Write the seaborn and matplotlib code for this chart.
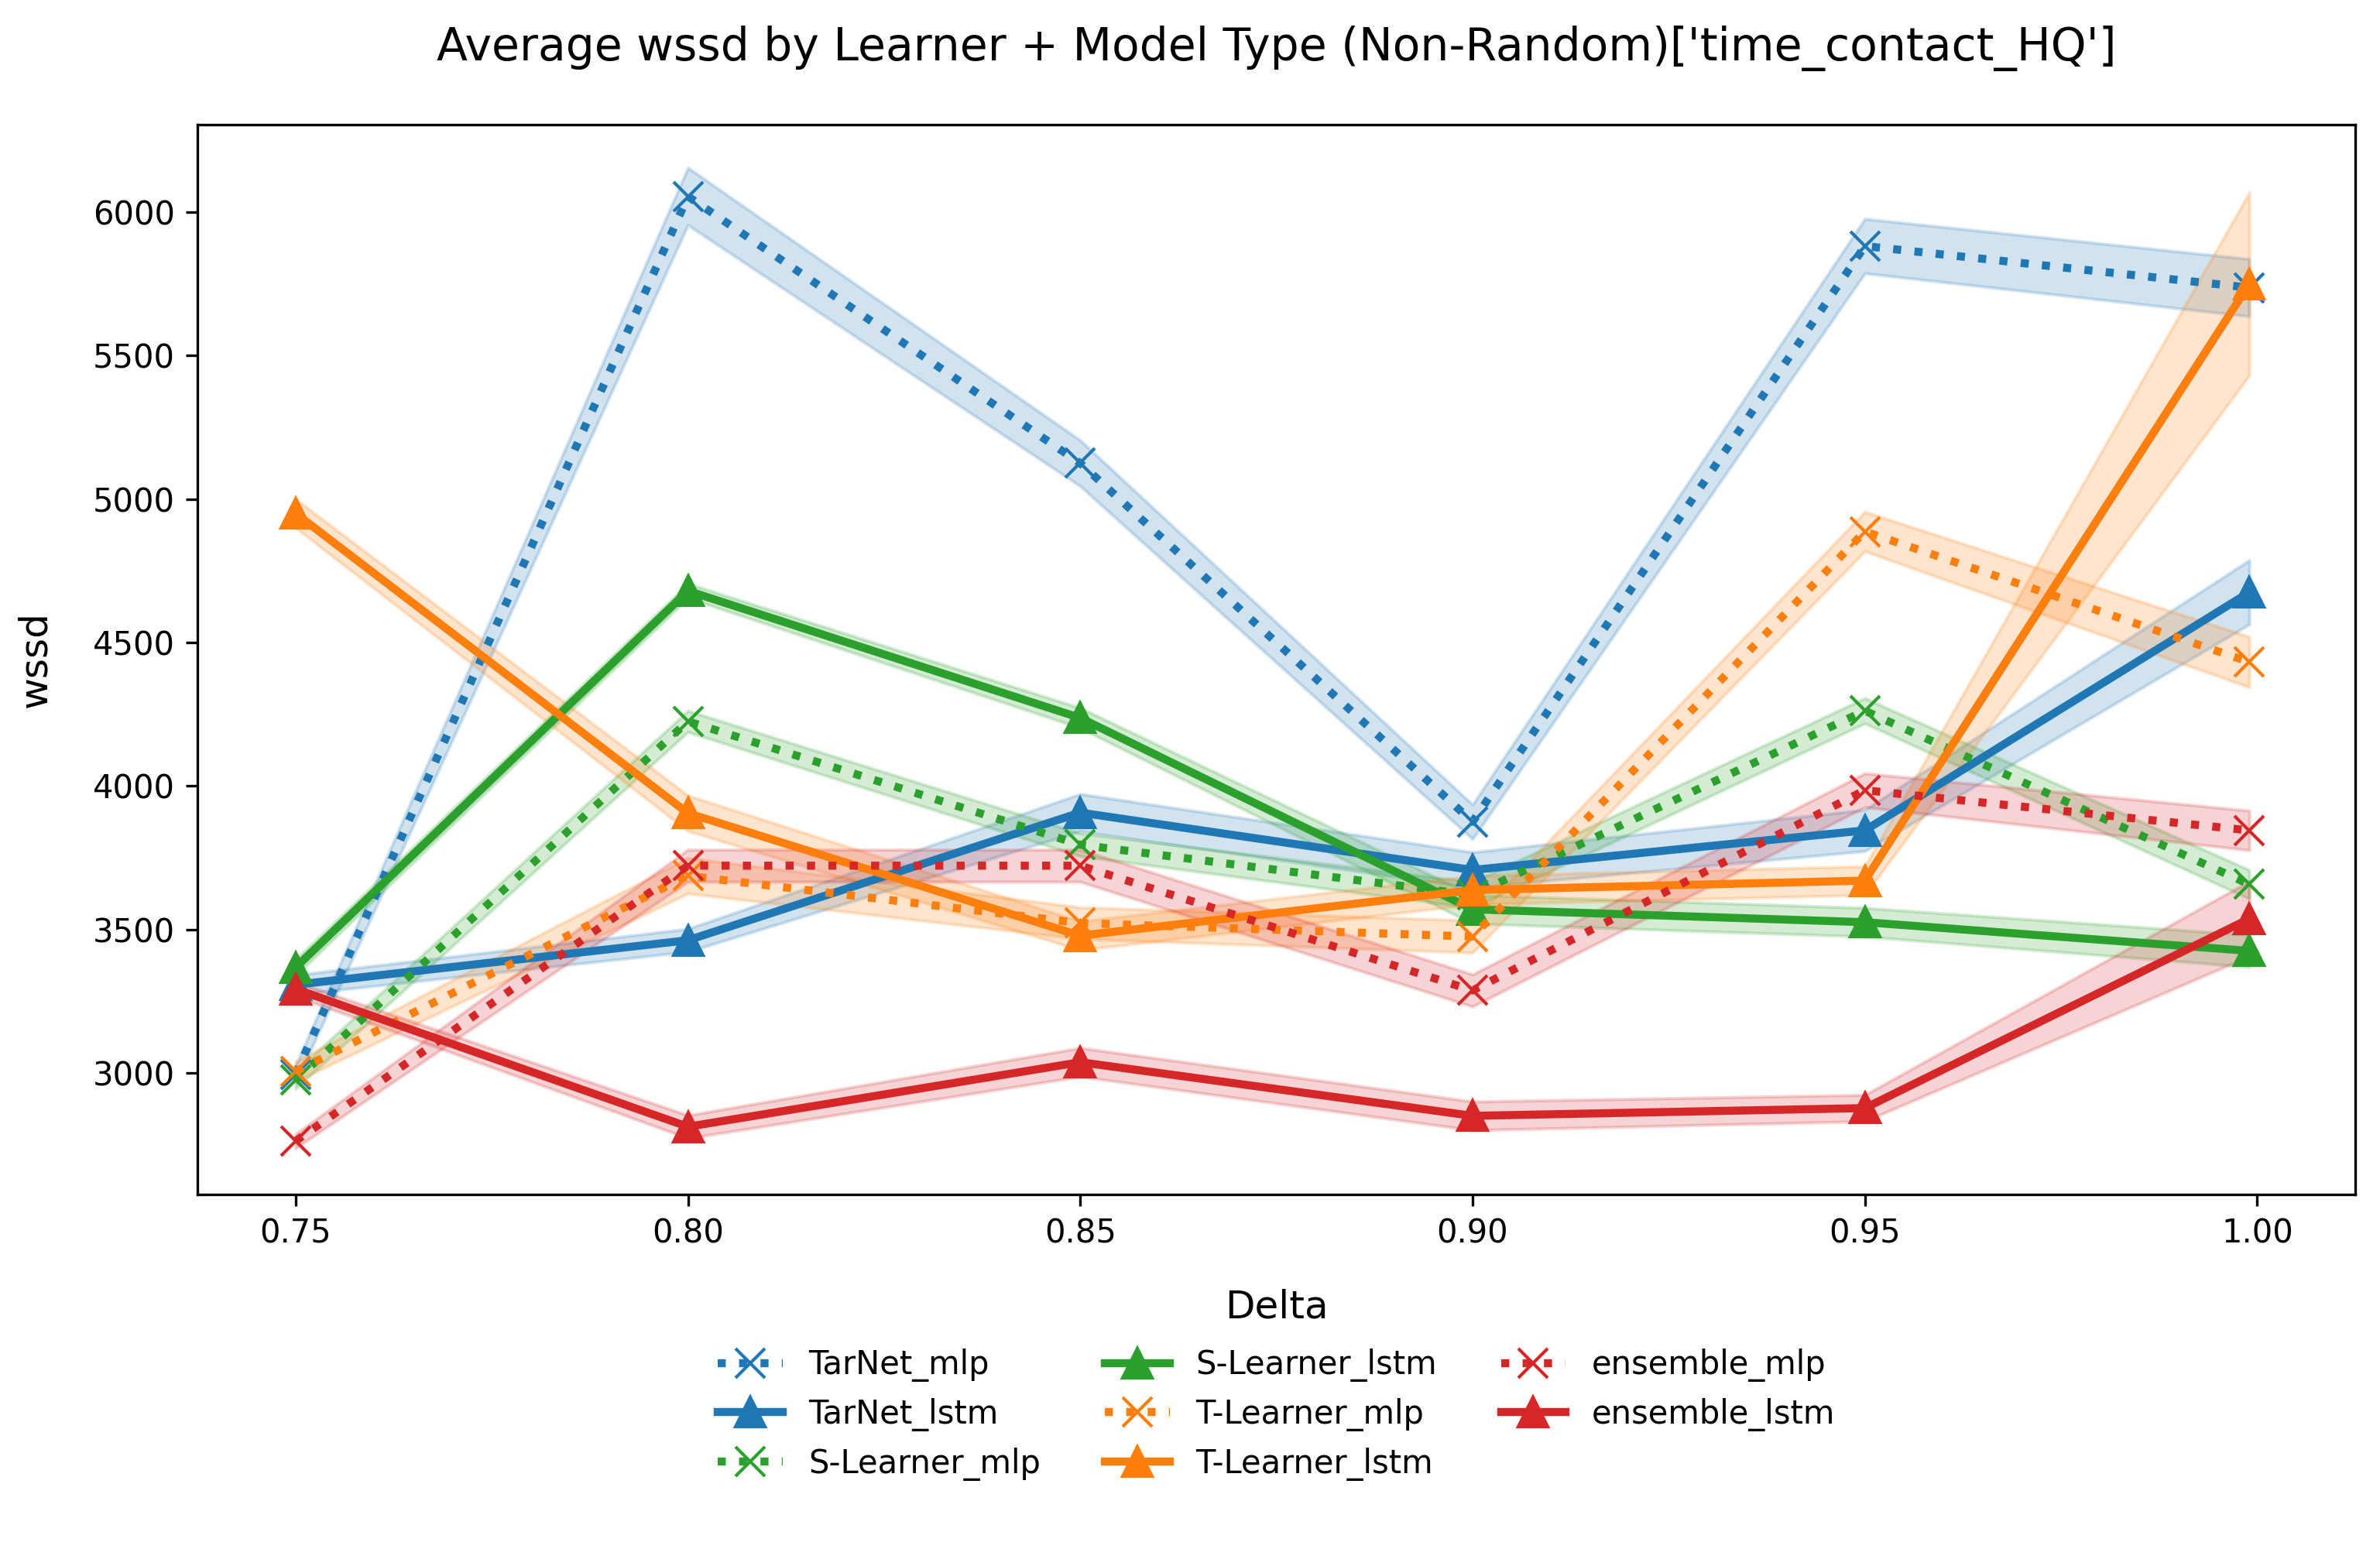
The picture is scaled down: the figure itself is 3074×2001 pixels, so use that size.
import numpy as np
import pandas as pd
import matplotlib
matplotlib.use("Agg")
import matplotlib.pyplot as plt
import seaborn as sns

# ---------------- data ----------------
delta = [0.75, 0.80, 0.85, 0.90, 0.95, 0.999]

series_names = ["TarNet_mlp", "TarNet_lstm", "S-Learner_mlp", "S-Learner_lstm",
                "T-Learner_mlp", "T-Learner_lstm", "ensemble_mlp", "ensemble_lstm"]

tarnet_mlp = [2995, 6055, 5125, 3875, 5882, 5737]
tarnet_mlp_ci = [30, 100, 80, 60, 95, 100]
tarnet_lstm = [3307, 3462, 3907, 3707, 3845, 4675]
tarnet_lstm_ci = [34, 40, 65, 62, 72, 112]
slearner_mlp = [2975, 4225, 3795, 3620, 4262, 3657]
slearner_mlp_ci = [30, 37, 40, 45, 44, 50]
slearner_lstm = [3367, 4680, 4237, 3570, 3525, 3425]
slearner_lstm_ci = [28, 25, 35, 50, 50, 56]
tlearner_mlp = [3005, 3687, 3522, 3475, 4887, 4432]
tlearner_mlp_ci = [35, 62, 55, 56, 69, 88]
tlearner_lstm = [4950, 3905, 3478, 3637, 3670, 5750]
tlearner_lstm_ci = [50, 62, 50, 50, 50, 319]
ensemble_mlp = [2762, 3722, 3722, 3287, 3985, 3845]
ensemble_mlp_ci = [25, 56, 56, 56, 59, 69]
ensemble_lstm = [3292, 2812, 3037, 2850, 2877, 3537]
ensemble_lstm_ci = [25, 40, 50, 50, 46, 131]

means = [tarnet_mlp, tarnet_lstm, slearner_mlp, slearner_lstm,
         tlearner_mlp, tlearner_lstm, ensemble_mlp, ensemble_lstm]
cis = [tarnet_mlp_ci, tarnet_lstm_ci, slearner_mlp_ci, slearner_lstm_ci,
       tlearner_mlp_ci, tlearner_lstm_ci, ensemble_mlp_ci, ensemble_lstm_ci]

palette = sns.color_palette("tab10")
learner_colors = {"TarNet": palette[0], "S-Learner": palette[2],
                  "T-Learner": palette[1], "ensemble": palette[3]}

# long table: each point as (lower, mean, upper) so seaborn draws the band
rows = []
for name, m, c in zip(series_names, means, cis):
    for d, mv, cv in zip(delta, m, c):
        for v in (mv - cv, mv, mv + cv):
            rows.append({"series": name, "Delta": d, "wssd": v})
df = pd.DataFrame(rows)

# ---------------- figure ----------------
fig = plt.figure(figsize=(3074 / 300, 2001 / 300), dpi=300)
ax = fig.add_axes([0.083, 0.2289, 0.9066, 0.6906])

for name in series_names:
    learner, model = name.rsplit("_", 1)
    col = learner_colors[learner]
    sub = df[df["series"] == name]
    if model == "mlp":
        sns.lineplot(data=sub, x="Delta", y="wssd", ax=ax, color=col,
                     errorbar=lambda v: (v.min(), v.max()),
                     linestyle=":", linewidth=2.5, marker="x", markersize=9,
                     markeredgecolor=col, markeredgewidth=1.0, label=name)
    else:
        sns.lineplot(data=sub, x="Delta", y="wssd", ax=ax, color=col,
                     errorbar=lambda v: (v.min(), v.max()),
                     linestyle="-", linewidth=2.5, marker="^", markersize=9,
                     markeredgecolor=col, markeredgewidth=1.0, label=name)

ax.set_xlim(0.7375, 1.0125)
ax.set_ylim(2576, 6305)
ax.set_xticks([0.75, 0.80, 0.85, 0.90, 0.95, 1.00])
ax.set_xticklabels(["0.75", "0.80", "0.85", "0.90", "0.95", "1.00"])

ax.set_title("Average wssd by Learner + Model Type (Non-Random)['time_contact_HQ']",
             fontsize=14, pad=20)
ax.set_xlabel("Delta", fontsize=12, labelpad=12)
ax.set_ylabel("wssd", fontsize=12, labelpad=12)

ax.legend(loc="upper center", bbox_to_anchor=(0.5, -0.117), ncol=3,
          frameon=False, fontsize=10)

fig.savefig("out.png", dpi=300)
